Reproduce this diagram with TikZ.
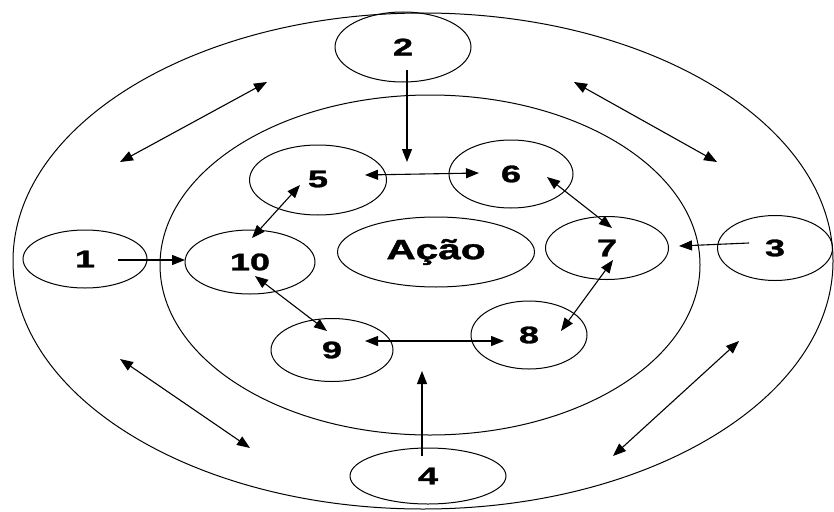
\documentclass[tikz,border=0pt]{standalone}
\usepackage{fontspec}
\setmainfont{Liberation Sans}
\newfontfamily\heavyfont{Liberation Sans Bold}[FakeBold=1.2]
\usetikzlibrary{shapes.geometric,arrows.meta,calc}
\tikzset{
  ell/.style={ellipse, draw, line width=1pt, inner sep=0pt},
  lab/.style={font=\fontsize{24}{24}\heavyfont},
  conn/.style={line width=1.1pt, -{Triangle[length=13pt,width=10pt]}},
  dconn/.style={line width=1.1pt, {Triangle[length=13pt,width=10pt]}-{Triangle[length=13pt,width=10pt]}},
}
\newcommand{\wlab}[1]{\scalebox{1.5}[1]{#1}}
\begin{document}
\begin{tikzpicture}[x=1pt,y=-1pt]
\useasboundingbox (0,0) rectangle (834,511);
% rings
\node[ell, minimum width=820pt, minimum height=496pt] (outer) at (423,261) {};
\node[ell, minimum width=540pt, minimum height=340pt] (inner) at (430,265) {};
% nodes
\node[ell, lab, minimum width=124pt, minimum height=58pt] (n1) at (85,259) {\wlab{1}};
\node[ell, lab, minimum width=136pt, minimum height=70pt] (n2) at (403,47) {\wlab{2}};
\node[ell, lab, minimum width=115pt, minimum height=65pt] (n3) at (775,248) {\wlab{3}};
\node[ell, lab, minimum width=156pt, minimum height=56pt] (n4) at (428,476) {\wlab{4}};
\node[ell, lab, minimum width=137pt, minimum height=70pt] (n5) at (318,180) {\raisebox{2pt}{\wlab{5}}};
\node[ell, lab, minimum width=124pt, minimum height=68pt] (n6) at (511,174) {\wlab{6}};
\node[ell, lab, minimum width=123pt, minimum height=63pt] (n7) at (607,248) {\wlab{7}};
\node[ell, lab, minimum width=116pt, minimum height=68pt] (n8) at (529,335) {\wlab{8}};
\node[ell, lab, minimum width=122pt, minimum height=63pt] (n9) at (332,350) {\wlab{9}};
\node[ell, lab, minimum width=130pt, minimum height=64pt] (n10) at (250,262) {\wlab{10}};
\node[ell, font=\fontsize{28}{28}\heavyfont, minimum width=197pt, minimum height=70pt] (acao) at (436,252) {\scalebox{1.45}[1]{Ação}};
% free ends
\coordinate (c2) at (407,162);
\coordinate (c4) at (422,371);
\coordinate (tl1) at (120,162); \coordinate (tl2) at (267,82);
\coordinate (tr1) at (574,82);  \coordinate (tr2) at (717,162);
\coordinate (bl1) at (120,359); \coordinate (bl2) at (250,448);
\coordinate (br1) at (739,341); \coordinate (br2) at (613,456);
% connectors
\draw[conn] ($(n2)+(4,23)$) -- (c2);
\draw[conn] ($(n4)+(-6,-20)$) -- (c4);
\draw[conn] ($(n1)+(33,1)$) -- ($(n10)+(-65,-2)$);
\draw[conn] ($(n3)+(-26,-5)$) -- ($(n7)+(72,-2)$);
\draw[dconn] ($(n5)+(47,-5)$) -- ($(n6)+(-32,-1)$);
\draw[dconn] ($(n6)+(36,3)$) -- ($(n7)+(5,-20)$);
\draw[dconn] ($(n8)+(32,-4)$) -- ($(n7)+(6,12)$);
\draw[dconn] ($(n9)+(33,-9)$) -- ($(n8)+(-25,6)$);
\draw[dconn] ($(n10)+(5,14)$) -- ($(n9)+(-5,-19)$);
\draw[dconn] ($(n10)+(2,-24)$) -- ($(n5)+(-18,5)$);
\draw[dconn] (tl1) -- (tl2);
\draw[dconn] (tr1) -- (tr2);
\draw[dconn] (bl1) -- (bl2);
\draw[dconn] (br1) -- (br2);
\end{tikzpicture}
\end{document}
